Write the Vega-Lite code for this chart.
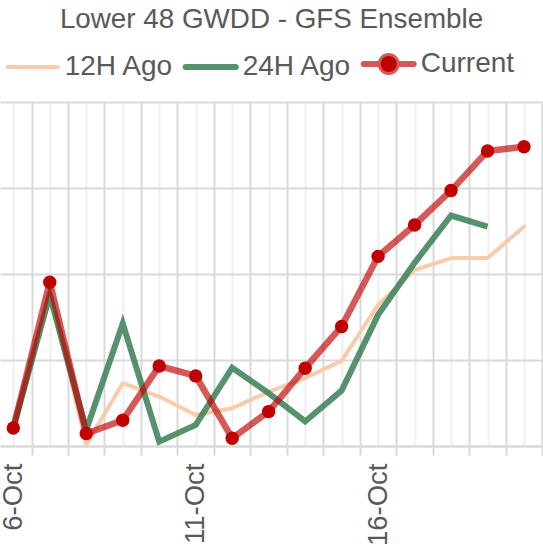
{
  "$schema": "https://vega.github.io/schema/vega-lite/v6.json",
  "width": 543,
  "height": 344,
  "autosize": {"type": "none"},
  "padding": {"top": 102, "left": 0, "right": 0, "bottom": 100},
  "title": {
    "text": "Lower 48 GWDD - GFS Ensemble",
    "font": "Liberation Sans",
    "fontSize": 27.8,
    "fontWeight": "normal",
    "color": "#595959",
    "anchor": "middle",
    "frame": "group",
    "baseline": "alphabetic",
    "offset": -6
  },
  "config": {
    "view": {"stroke": null},
    "font": "Liberation Sans"
  },
  "data": {
    "values": [
      {"date": "2023-10-06", "series": "12H Ago", "value": 6.42},
      {"date": "2023-10-07", "series": "12H Ago", "value": 9.58},
      {"date": "2023-10-08", "series": "12H Ago", "value": 6.03},
      {"date": "2023-10-09", "series": "12H Ago", "value": 7.46},
      {"date": "2023-10-10", "series": "12H Ago", "value": 7.15},
      {"date": "2023-10-11", "series": "12H Ago", "value": 6.72},
      {"date": "2023-10-12", "series": "12H Ago", "value": 6.88},
      {"date": "2023-10-13", "series": "12H Ago", "value": 7.26},
      {"date": "2023-10-14", "series": "12H Ago", "value": 7.58},
      {"date": "2023-10-15", "series": "12H Ago", "value": 7.98},
      {"date": "2023-10-16", "series": "12H Ago", "value": 9.28},
      {"date": "2023-10-17", "series": "12H Ago", "value": 10.09},
      {"date": "2023-10-18", "series": "12H Ago", "value": 10.37},
      {"date": "2023-10-19", "series": "12H Ago", "value": 10.37},
      {"date": "2023-10-20", "series": "12H Ago", "value": 11.1},
      {"date": "2023-10-06", "series": "24H Ago", "value": 6.42},
      {"date": "2023-10-07", "series": "24H Ago", "value": 9.51},
      {"date": "2023-10-08", "series": "24H Ago", "value": 6.37},
      {"date": "2023-10-09", "series": "24H Ago", "value": 8.85},
      {"date": "2023-10-10", "series": "24H Ago", "value": 6.1},
      {"date": "2023-10-11", "series": "24H Ago", "value": 6.49},
      {"date": "2023-10-12", "series": "24H Ago", "value": 7.82},
      {"date": "2023-10-13", "series": "24H Ago", "value": 7.23},
      {"date": "2023-10-14", "series": "24H Ago", "value": 6.57},
      {"date": "2023-10-15", "series": "24H Ago", "value": 7.29},
      {"date": "2023-10-16", "series": "24H Ago", "value": 9.05},
      {"date": "2023-10-17", "series": "24H Ago", "value": 10.26},
      {"date": "2023-10-18", "series": "24H Ago", "value": 11.36},
      {"date": "2023-10-19", "series": "24H Ago", "value": 11.1},
      {"date": "2023-10-06", "series": "Current", "value": 6.42},
      {"date": "2023-10-07", "series": "Current", "value": 9.81},
      {"date": "2023-10-08", "series": "Current", "value": 6.29},
      {"date": "2023-10-09", "series": "Current", "value": 6.6},
      {"date": "2023-10-10", "series": "Current", "value": 7.86},
      {"date": "2023-10-11", "series": "Current", "value": 7.63},
      {"date": "2023-10-12", "series": "Current", "value": 6.18},
      {"date": "2023-10-13", "series": "Current", "value": 6.8},
      {"date": "2023-10-14", "series": "Current", "value": 7.81},
      {"date": "2023-10-15", "series": "Current", "value": 8.78},
      {"date": "2023-10-16", "series": "Current", "value": 10.41},
      {"date": "2023-10-17", "series": "Current", "value": 11.14},
      {"date": "2023-10-18", "series": "Current", "value": 11.94},
      {"date": "2023-10-19", "series": "Current", "value": 12.86},
      {"date": "2023-10-20", "series": "Current", "value": 12.96}
    ]
  },
  "resolve": {"axis": {"x": "independent"}},
  "layer": [
    {
      "transform": [{"filter": "datum.series === '12H Ago'"}],
      "mark": {"type": "line", "strokeWidth": 4, "strokeJoin": "round", "strokeCap": "round"},
      "encoding": {
        "x": {
          "field": "date", "type": "temporal",
          "scale": {"type": "utc", "domain": [
            {"year": 2023, "month": 10, "date": 5, "hours": 15, "minutes": 15, "utc": true},
            {"year": 2023, "month": 10, "date": 20, "hours": 12, "minutes": 30, "utc": true}
          ]},
          "axis": {
            "orient": "bottom",
            "title": null,
            "values": [
              {"year": 2023, "month": 10, "date": 6, "utc": true},
              {"year": 2023, "month": 10, "date": 7, "utc": true},
              {"year": 2023, "month": 10, "date": 8, "utc": true},
              {"year": 2023, "month": 10, "date": 9, "utc": true},
              {"year": 2023, "month": 10, "date": 10, "utc": true},
              {"year": 2023, "month": 10, "date": 11, "utc": true},
              {"year": 2023, "month": 10, "date": 12, "utc": true},
              {"year": 2023, "month": 10, "date": 13, "utc": true},
              {"year": 2023, "month": 10, "date": 14, "utc": true},
              {"year": 2023, "month": 10, "date": 15, "utc": true},
              {"year": 2023, "month": 10, "date": 16, "utc": true},
              {"year": 2023, "month": 10, "date": 17, "utc": true},
              {"year": 2023, "month": 10, "date": 18, "utc": true},
              {"year": 2023, "month": 10, "date": 19, "utc": true},
              {"year": 2023, "month": 10, "date": 20, "utc": true}
            ],
            "labelExpr": "utcdate(datum.value) % 5 === 1 ? utcFormat(datum.value, '%-d-%b') : ''",
            "grid": true, "gridColor": "#EFEFEF", "gridWidth": 2,
            "ticks": false, "tickSize": 0, "domain": false,
            "labelAngle": -90, "labelPadding": 17, "labelFontSize": 27.5,
            "labelFont": "Liberation Sans", "labelColor": "#595959",
            "labelOverlap": false, "labelFlush": false, "labelBound": false
          }
        },
        "y": {
          "field": "value", "type": "quantitative",
          "scale": {"domain": [6, 14], "nice": false, "zero": false},
          "axis": {"title": null, "labels": false, "ticks": false, "domain": false,
                   "grid": true, "gridColor": "#D9D9D9", "gridWidth": 2, "values": [6, 8, 10, 12, 14]}
        },
        "color": {
          "field": "series", "type": "nominal",
          "scale": {"domain": ["12H Ago", "24H Ago", "Current"], "range": ["#F8CBAD", "#3A7F55", "#C00000"]},
          "legend": {
            "title": null,
            "orient": "none",
            "legendX": 7.7,
            "legendY": -52,
            "direction": "horizontal",
            "symbolType": "stroke",
            "symbolSize": 2500,
            "symbolOffset": 11,
            "labelOffset": 18,
            "columnPadding": 0,
            "labelFontSize": 28,
            "labelFont": "Liberation Sans",
            "labelColor": "#595959",
            "labelLimit": 0,
            "encode": {
              "symbols": {
                "update": {
                  "shape": {"signal": "datum.value === 'Current' ? 'M-1,0H1M0.32,0A0.32,0.32 0 1,1 -0.32,0A0.32,0.32 0 1,1 0.32,0Z' : 'stroke'"},
                  "fill": {"signal": "datum.value === 'Current' ? '#C00000' : 'transparent'"},
                  "fillOpacity": {"value": 1},
                  "opacity": {"value": 1},
                  "strokeWidth": {"signal": "datum.value === '12H Ago' ? 4 : 6"},
                  "strokeOpacity": {"signal": "datum.value === 'Current' ? 0.65 : (datum.value === '24H Ago' ? 0.85 : 1)"},
                  "strokeCap": {"value": "round"}
                }
              }
            }
          }
        }
      }
    },
    {
      "transform": [{"filter": "datum.series === '24H Ago'"}],
      "mark": {"type": "line", "strokeWidth": 6, "opacity": 0.85, "strokeJoin": "miter", "strokeCap": "butt"},
      "encoding": {
        "x": {
          "field": "date", "type": "temporal",
          "axis": {
            "orient": "bottom",
            "title": null,
            "values": [
              {"year": 2023, "month": 10, "date": 6, "hours": 12, "utc": true},
              {"year": 2023, "month": 10, "date": 7, "hours": 12, "utc": true},
              {"year": 2023, "month": 10, "date": 8, "hours": 12, "utc": true},
              {"year": 2023, "month": 10, "date": 9, "hours": 12, "utc": true},
              {"year": 2023, "month": 10, "date": 10, "hours": 12, "utc": true},
              {"year": 2023, "month": 10, "date": 11, "hours": 12, "utc": true},
              {"year": 2023, "month": 10, "date": 12, "hours": 12, "utc": true},
              {"year": 2023, "month": 10, "date": 13, "hours": 12, "utc": true},
              {"year": 2023, "month": 10, "date": 14, "hours": 12, "utc": true},
              {"year": 2023, "month": 10, "date": 15, "hours": 12, "utc": true},
              {"year": 2023, "month": 10, "date": 16, "hours": 12, "utc": true},
              {"year": 2023, "month": 10, "date": 17, "hours": 12, "utc": true},
              {"year": 2023, "month": 10, "date": 18, "hours": 12, "utc": true},
              {"year": 2023, "month": 10, "date": 19, "hours": 12, "utc": true},
              {"year": 2023, "month": 10, "date": 20, "hours": 12, "utc": true}
            ],
            "labels": false,
            "grid": true, "gridColor": "#D9D9D9", "gridWidth": 2,
            "ticks": true, "tickColor": "#D9D9D9", "tickWidth": 2, "tickSize": 9,
            "domain": true, "domainColor": "#D9D9D9", "domainWidth": 2
          }
        },
        "y": {"field": "value", "type": "quantitative"},
        "color": {"field": "series", "type": "nominal"}
      }
    },
    {
      "transform": [{"filter": "datum.series === 'Current'"}],
      "mark": {"type": "line", "strokeWidth": 6.5, "opacity": 0.65, "strokeJoin": "miter"},
      "encoding": {
        "x": {"field": "date", "type": "temporal", "axis": null},
        "y": {"field": "value", "type": "quantitative"},
        "color": {"field": "series", "type": "nominal"}
      }
    },
    {
      "transform": [{"filter": "datum.series === 'Current'"}],
      "mark": {"type": "circle", "size": 180, "color": "#C00000", "opacity": 1},
      "encoding": {
        "x": {"field": "date", "type": "temporal", "axis": null},
        "y": {"field": "value", "type": "quantitative"}
      }
    }
  ]
}
